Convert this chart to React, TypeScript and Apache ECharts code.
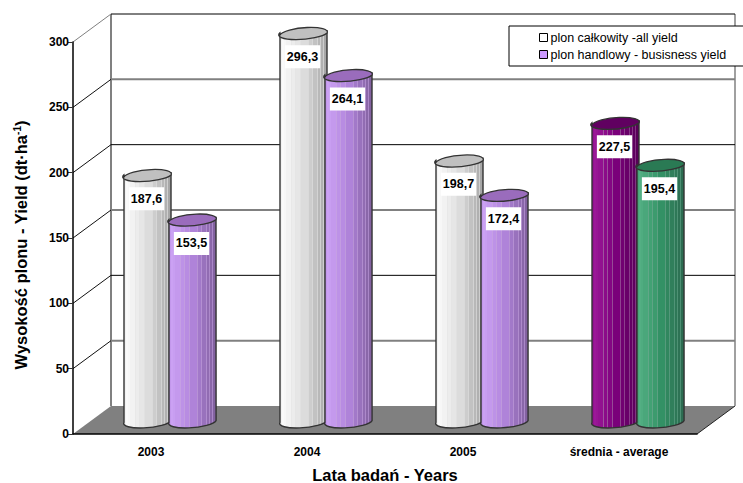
import React, { useEffect, useRef } from "react";
import * as echarts from "echarts";

const categories = ["2003", "2004", "2005", "średnia - average"];
const totalYield = [187.6, 296.3, 198.7, 227.5];
const businessYield = [153.5, 264.1, 172.4, 195.4];
const yTicks = [0, 50, 100, 150, 200, 250, 300];
const totalName = "plon całkowity -all yield";
const businessName = "plon handlowy - busisness yield";

const FONT = '"Liberation Sans", Arial, sans-serif';
const DEPTH_X = 38;
const DEPTH_Y = -28;
const RX = 23.5;
const RY = 6;
const BAR_SHIFT = 22.5;

type Tone = { light: string; mid: string; dark: string; streak: string; cap: string };

const silver: Tone = { light: "#ffffff", mid: "#dedede", dark: "#a4a4a4", streak: "#f2f2f2", cap: "#c0c0c0" };
const lilac: Tone = { light: "#cfa6f7", mid: "#b184dc", dark: "#80609c", streak: "#cfa8ee", cap: "#9a6cbc" };
const plum: Tone = { light: "#a01c9c", mid: "#7c007c", dark: "#560056", streak: "#a860a8", cap: "#600060" };
const jade: Tone = { light: "#58b488", mid: "#339366", dark: "#2c6a50", streak: "#68b090", cap: "#2a7a54" };

const totalTones = [silver, silver, silver, plum];
const businessTones = [lilac, lilac, lilac, jade];

const toRgb = (h: string) => [1, 3, 5].map((i) => parseInt(h.slice(i, i + 2), 16));
const mix = (a: string, b: string, t: number) => {
  const x = toRgb(a);
  const y = toRgb(b);
  return `rgb(${x.map((v, i) => Math.round(v + (y[i] - v) * t)).join(",")})`;
};

// Flat vertical bands across the cylinder face, every second one a pale streak.
const bandEdges = [0, 0.04, 0.1, 0.14, 0.24, 0.26, 0.33, 0.35, 0.42, 0.44, 0.6, 0.62, 0.68, 0.71, 0.78, 0.8, 0.86, 0.88, 0.92, 0.94, 1];
const faceFill = (tone: Tone) => {
  const colorStops: { offset: number; color: string }[] = [];
  bandEdges.slice(0, -1).forEach((from, i) => {
    const to = bandEdges[i + 1];
    const t = (from + to) / 2;
    const base = t < 0.5 ? mix(tone.light, tone.mid, t / 0.5) : mix(tone.mid, tone.dark, (t - 0.5) / 0.5);
    const color = i === 0 ? mix(tone.mid, tone.light, 0.6) : i % 2 === 0 && t > 0.2 ? mix(tone.streak, tone.dark, t * 0.5) : base;
    colorStops.push({ offset: from, color }, { offset: to, color });
  });
  return { type: "linear", x: 0, y: 0, x2: 1, y2: 0, colorStops };
};

const cylinderItem = (shift: number, tones: Tone[]) => (params: any, api: any) => {
  const index = api.value(0);
  const top = api.coord([index, api.value(1)]);
  const base = api.coord([index, 0]);
  const cx = top[0] + DEPTH_X / 2 + shift;
  const topY = top[1] + DEPTH_Y / 2;
  const baseY = base[1] + DEPTH_Y / 2 + 0.5;
  const dy = 2;
  const tone = tones[index];
  const l = cx - RX;
  const r = cx + RX;
  const stroke = "#333333";
  return {
    type: "group",
    children: [
      {
        type: "path",
        shape: {
          pathData: `M${l} ${topY + dy}L${l} ${baseY + dy}A${RX} ${RY} -5 0 0 ${r} ${baseY - dy}L${r} ${topY - dy}Z`,
        },
        style: { fill: faceFill(tone), stroke, lineWidth: 1.4 },
      },
      {
        type: "path",
        shape: {
          pathData: `M${l} ${topY + dy}A${RX} ${RY} -5 0 1 ${r} ${topY - dy}A${RX} ${RY} -5 0 1 ${l} ${topY + dy}Z`,
        },
        style: { fill: tone.cap, stroke, lineWidth: 1.3 },
      },
    ],
  };
};

const valueLabelItem = (shift: number) => (params: any, api: any) => {
  const point = api.coord([api.value(0), api.value(1)]);
  return {
    type: "text",
    x: point[0] + DEPTH_X / 2 + shift - 1,
    y: point[1] + 10,
    style: {
      text: api.value(1).toFixed(1).replace(".", ","),
      font: `bold 12.5px ${FONT}`,
      fill: "#000000",
      align: "center",
      verticalAlign: "middle",
      backgroundColor: "#ffffff",
      padding: [5, 2, 5, 2],
    },
  };
};

// Back wall, side wall and floor of the box, one group per tick value.
const frameItem = (params: any, api: any) => {
  const value = api.value(1);
  const box = params.coordSys;
  const y = api.coord([0, value])[1];
  const left = box.x;
  const right = box.x + box.width;
  const backY = y + DEPTH_Y;
  const black = value % 100 === 0;
  const children: any[] = [];
  if (value === 0) {
    children.push({
      type: "polygon",
      shape: { points: [[left, y], [right, y], [right + DEPTH_X, backY], [left + DEPTH_X, backY]] },
      style: { fill: "#808080" },
    });
    children.push({
      type: "line",
      shape: { x1: right, y1: y, x2: right + DEPTH_X, y2: backY },
      style: { stroke: "#222222", lineWidth: 1 },
    });
    children.push({
      type: "line",
      shape: { x1: left + DEPTH_X, y1: backY, x2: left + DEPTH_X, y2: box.y + DEPTH_Y },
      style: { stroke: "#808080", lineWidth: 2 },
    });
    children.push({
      type: "line",
      shape: { x1: right + DEPTH_X, y1: backY, x2: right + DEPTH_X, y2: box.y + DEPTH_Y },
      style: { stroke: "#808080", lineWidth: 1.5 },
    });
  } else {
    children.push({
      type: "line",
      shape: { x1: left + DEPTH_X, y1: backY, x2: right + DEPTH_X, y2: backY },
      style: { stroke: black ? "#000000" : "#808080", lineWidth: black ? 1 : 2 },
    });
    children.push({
      type: "line",
      shape: { x1: left, y1: y, x2: left + DEPTH_X, y2: backY },
      style: { stroke: value === 300 ? "#808080" : "#111111", lineWidth: 1 },
    });
  }
  return { type: "group", children };
};

const pairs = (values: number[]) => values.map((v, i) => [i, v]);

export default function App() {
  const ref = useRef<HTMLDivElement>(null);

  useEffect(() => {
    document.body.style.margin = "0";
    const chart = echarts.init(ref.current!, undefined, { renderer: "svg" });
    chart.setOption({
      animation: false,
      backgroundColor: "#ffffff",
      textStyle: { fontFamily: FONT },
      grid: { left: 73, top: 42, width: 624, height: 392, outerBoundsMode: "none" },
      legend: {
        left: 509,
        top: 26,
        orient: "vertical",
        align: "left",
        icon: "rect",
        itemWidth: 8,
        itemHeight: 8,
        itemGap: 4,
        padding: [5, 20, 5, 30],
        backgroundColor: "#ffffff",
        borderColor: "#000000",
        borderWidth: 1,
        borderRadius: 0,
        textStyle: { fontFamily: FONT, fontSize: 12.5, color: "#000000", padding: [0, 0, 0, -2] },
        data: [
          { name: totalName, itemStyle: { color: "#ffffff", borderColor: "#000000", borderWidth: 1 } },
          { name: businessName, itemStyle: { color: "#cc99ff", borderColor: "#000000", borderWidth: 1 } },
        ],
      },
      xAxis: {
        type: "category",
        data: categories,
        z: 10,
        name: "Lata badań - Years",
        nameLocation: "middle",
        nameGap: 32,
        nameTextStyle: { fontFamily: FONT, fontWeight: "bold", fontSize: 16.5, color: "#000000" },
        axisLine: { lineStyle: { color: "#000000", width: 1.5 } },
        axisTick: { length: 7, alignWithLabel: false, lineStyle: { color: "#000000" } },
        axisLabel: { fontFamily: FONT, fontWeight: "bold", fontSize: 12, color: "#000000", margin: 12 },
      },
      yAxis: {
        type: "value",
        min: 0,
        max: 300,
        interval: 50,
        z: 10,
        name: "{t|Wysokość plonu - Yield (dt·ha}{s|-1}{e|)}",
        nameLocation: "middle",
        nameGap: 43,
        nameRotate: 90,
        nameTextStyle: {
          rich: {
            t: { fontFamily: FONT, fontWeight: "bold", fontSize: 16.5, color: "#000000" },
            s: { fontFamily: FONT, fontWeight: "bold", fontSize: 10, color: "#000000", padding: [0, 0, 8, 0] },
            e: { fontFamily: FONT, fontWeight: "bold", fontSize: 16.5, color: "#000000", padding: [0, 14, 0, 0] },
          },
        },
        axisLine: { show: true, lineStyle: { color: "#000000", width: 1.5 } },
        axisTick: { show: true, length: 5, lineStyle: { color: "#333333" } },
        axisLabel: { fontFamily: FONT, fontWeight: "bold", fontSize: 12, color: "#000000", margin: 4 },
        splitLine: { show: false },
      },
      series: [
        {
          type: "custom",
          name: "frame",
          data: yTicks.map((v) => [0, v]),
          renderItem: frameItem,
          clip: false,
          silent: true,
          z: 1,
        },
        {
          type: "custom",
          name: totalName,
          data: pairs(totalYield),
          renderItem: cylinderItem(-BAR_SHIFT, totalTones),
          clip: false,
          z: 2,
        },
        {
          type: "custom",
          name: businessName,
          data: pairs(businessYield),
          renderItem: cylinderItem(BAR_SHIFT, businessTones),
          clip: false,
          z: 3,
        },
        {
          type: "custom",
          name: "total labels",
          data: pairs(totalYield),
          renderItem: valueLabelItem(-BAR_SHIFT),
          clip: false,
          z: 4,
        },
        {
          type: "custom",
          name: "business labels",
          data: pairs(businessYield),
          renderItem: valueLabelItem(BAR_SHIFT),
          clip: false,
          z: 4,
        },
      ],
    });
    return () => chart.dispose();
  }, []);

  return <div ref={ref} style={{ position: "fixed", left: 0, top: 0, width: 743, height: 483 }} />;
}
